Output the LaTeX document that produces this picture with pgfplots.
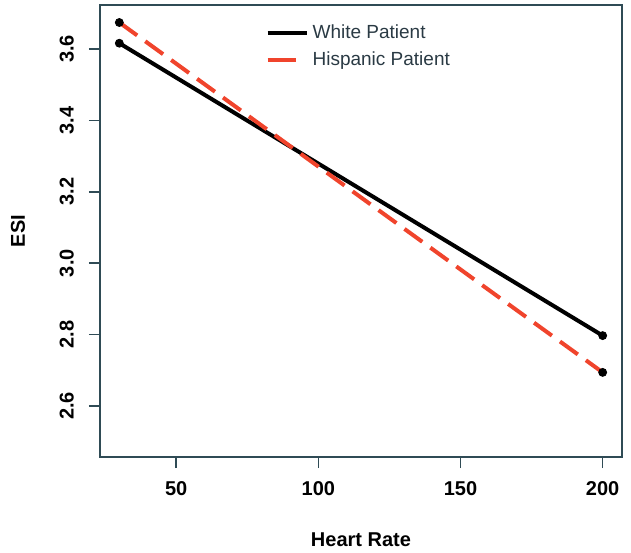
\documentclass[border=0pt]{standalone}
\usepackage{fontspec}
\setmainfont{Liberation Sans}
\usepackage{pgfplots}
\pgfplotsset{compat=1.18}
\definecolor{framegray}{HTML}{2F4B55}
\definecolor{hispred}{HTML}{F0442C}
\definecolor{legtext}{HTML}{2A3A44}

\begin{document}
\begin{tikzpicture}
\begin{axis}[
    name=main,
    scale only axis,
    width=261pt,height=226pt,
    xmin=23.2,xmax=206.8,
    ymin=2.457,ymax=3.723,
    xtick={50,100,150,200},
    ytick={2.6,2.8,3.0,3.2,3.4,3.6},
    yticklabel style={/pgf/number format/fixed,/pgf/number format/fixed zerofill,/pgf/number format/precision=1},
    axis line style={framegray,line width=0.8pt},
    tick style={framegray,line width=0.8pt},
    tick align=outside, major tick length=5.5pt,
    xtick pos=bottom, ytick pos=left,
    /pgf/number format/assume math mode=true,
    ticklabel style={font=\bfseries\fontsize{10}{12}\selectfont},
    xticklabel style={yshift=-3pt},
    yticklabel style={rotate=90,anchor=south,yshift=4pt},
    xlabel={Heart Rate}, ylabel={ESI},
    label style={font=\bfseries\fontsize{10}{12}\selectfont},
    xlabel style={at={(axis description cs:0.5,0)},anchor=center,yshift=-41.5pt},
    ylabel style={at={(axis description cs:0,0.5)},anchor=center,rotate=0,yshift=41pt},
    clip=false,
    legend style={draw=none,fill=none,at={(0.305,0.975)},anchor=north west,
      font=\fontsize{9.5}{11}\selectfont\color{legtext},row sep=1pt},
    legend cell align=left,
]
\addlegendimage{legend image code/.code={\draw[black,line width=2pt] (0pt,0pt) -- (19.5pt,0pt);}}
\addlegendentry{White Patient}
\addlegendimage{legend image code/.code={\draw[hispred,line width=2pt] (0pt,0pt) -- (14pt,0pt);}}
\addlegendentry{Hispanic Patient}
\addplot[black,line width=2pt,forget plot] coordinates {(30,3.616) (200,2.797)};
\addplot[hispred,line width=2pt,dash pattern=on 11pt off 5pt,forget plot] coordinates {(30,3.674) (200,2.694)};
\addplot[only marks,mark=*,mark size=2pt,black,forget plot] coordinates {(30,3.616) (200,2.797) (30,3.674) (200,2.694)};
\end{axis}
\pgfresetboundingbox
\path ([xshift=-50pt,yshift=-47.5pt]main.south west) rectangle ([xshift=4.5pt,yshift=2.5pt]main.north east);
\end{tikzpicture}
\end{document}
